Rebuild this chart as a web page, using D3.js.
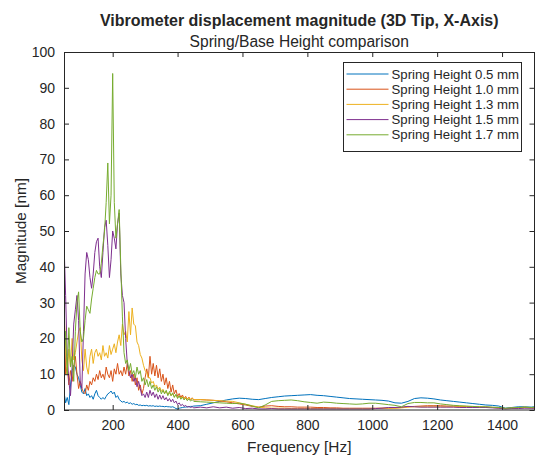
<!DOCTYPE html>
<html>
<head>
<meta charset="utf-8">
<script src="https://cdn.jsdelivr.net/npm/d3@7"></script>
<style>
  body { margin: 0; background: #fff; }
  svg { display: block; }
  text { font-family: "Liberation Sans", Arial, sans-serif; fill: #262626; }
</style>
</head>
<body>
<svg id="chart" width="535" height="458"></svg>
<script>
// frequency grid [Hz]: fine below 450 Hz, coarser above
var freq = [50,55,60,65,70,75,80,85,90,95,100,105,110,115,120,125,130,135,140,145,
  150,155,160,165,170,175,180,185,190,195,200,205,210,215,220,225,230,235,240,245,
  250,255,260,265,270,275,280,285,290,295,300,305,310,315,320,325,330,335,340,345,
  350,355,360,365,370,375,380,385,390,395,400,405,410,415,420,425,430,435,440,445,450,
  470,490,510,530,550,570,590,610,630,650,670,690,710,730,750,770,790,810,830,850,
  870,890,910,930,950,970,990,1010,1030,1050,1070,1090,1110,1130,1150,1170,1190,1210,1230,1250,
  1270,1290,1310,1330,1350,1370,1390,1410,1430,1450,1470,1490,1500];

var h05 = [5,2,3.5,1.5,7,11,12.5,12,10,9,7,5,4.5,6,4,4.5,3.5,4,3,4.5,
  5.5,4,3.5,3,3.5,3,3.8,4.5,4.8,5.3,4.5,5,3.5,4,3,2.5,2.2,2.4,2,2.2,
  1.8,2,1.6,1.8,1.5,1.6,1.3,1.4,1.2,1.3,1.2,1.3,1.1,1.2,1.1,1.2,1.0,1.1,1.0,1.1,
  1.0,1.0,0.9,1.0,0.9,0.9,0.8,0.9,0.7,0.4,0.3,0.5,0.6,0.7,0.8,0.8,0.9,0.9,1.0,1.0,1.1,
  1.2,1.6,2.0,2.4,2.8,3.1,3.3,3.2,3.0,2.9,3.2,3.5,3.7,3.9,4.0,4.1,4.2,4.3,4.1,4.0,
  3.8,3.6,3.4,3.2,3.1,3.0,2.9,2.8,2.7,2.5,2.0,1.9,2.4,3.2,3.4,3.3,3.1,2.8,2.6,2.4,
  2.2,2.0,1.8,1.6,1.4,1.3,1.1,0.5,0.7,0.9,0.9,0.8,0.9];

var h10 = [33,10,12,7,11,8,12,15,10,6,8,6,5,4.5,7,5.5,8,7,9,8,
  10,8.5,11,9,10,8.5,12,10,9,11,8,11.5,10,13,10,11,9.5,12,10,13,
  9.5,11,8,10,7,9,5.5,7,4.5,6,9,11.5,9,15,10,13,9.5,12.5,9,11.5,
  8,10,7,9,6,8,5,7,4.5,5.6,3.8,4.6,3.5,4.2,3.2,3.8,3,3.6,2.8,3.4,2.8,
  2.9,2.8,2.7,2.5,2.3,2.0,1.7,1.4,1.0,0.8,1.1,1.2,1.0,0.9,0.9,0.8,0.8,0.8,0.7,0.7,
  0.6,0.6,0.5,0.5,0.5,0.5,0.5,0.5,0.5,0.5,0.6,0.7,0.9,1.0,1.1,1.2,1.2,1.2,1.1,1.1,
  1.0,1.0,0.9,0.8,0.8,0.7,0.6,0.4,0.5,0.7,0.7,0.6,0.6];

var h13 = [26,18,10,17,12,20,14,16,19,22,23,14,11,17,12,10,15,17,13,16,
  17,15,16,14,18,15,16,14.5,18,15.5,17,18.5,16,19,21,18,24,21,22,19,
  27.5,21,28.5,24,23.5,19,18,15.5,14.5,12.5,11,10.5,9,9,7.5,8,6.5,7,5.8,6.4,
  5.2,5.8,4.8,5.2,4.3,4.8,4,4.5,3.7,4.2,3.4,3.9,3.2,3.8,3.1,3.6,3,3.5,2.9,3.3,2.9,
  2.9,2.8,2.7,2.6,2.5,2.4,2.0,1.6,1.2,0.8,0.6,0.5,0.5,0.5,0.4,0.4,0.4,0.4,0.4,0.4,
  0.4,0.4,0.4,0.4,0.4,0.4,0.4,0.4,0.5,0.5,0.5,0.6,0.8,0.9,0.9,0.9,0.9,0.9,0.9,0.9,
  0.9,0.9,0.9,0.9,0.8,0.7,0.6,0.4,0.5,0.6,0.8,0.6,0.6];

var h15 = [47,32,15,8,4,12,24,28,32,25,8,6,22,38,44,42,37,34,38,44,
  47,48,40,37,44,51,53,46,37,42,50,48,45,52,55,38,32,30,20,13,
  11,9,10,8,9,6.5,8,6,4,4.5,3.5,5,3.5,5.5,4,5,3.5,4.5,3,4.2,
  3,4,2.8,3.5,2.5,3.2,2.3,3,2,2.5,1.5,2,1.2,1.6,1,1.3,0.8,1,0.7,0.9,0.6,
  0.8,0.6,0.9,0.6,0.8,0.5,0.7,0.4,0.5,0.3,0.3,0.4,0.3,0.3,0.3,0.3,0.3,0.3,0.3,0.3,
  0.3,0.3,0.3,0.3,0.3,0.3,0.3,0.4,0.5,0.7,0.7,0.8,1.0,0.9,0.8,0.8,0.8,0.8,0.8,0.8,
  0.7,0.7,0.7,0.7,0.7,0.6,0.5,0.3,0.4,0.4,0.5,0.5,0.5];

var h17 = [14,22,10,23,12,15,8,22,30,33,22,19,20,25,29,28,27,31,34,37,
  39,38,38,41,46,50,58,69,52,60,94,58,48,52,56,40,26,16,13,14,
  11,13,10,11,9,12,10,11,8,9,7,8.5,6.5,8,6,7,5.5,6.5,5,6,
  4.5,5.5,4.5,5.5,4,5.2,4,4.8,3.5,4.4,3.2,4,3,3.6,2.8,3.3,2.6,3.1,2.5,2.9,2.4,
  2.3,2.2,2.1,2.0,1.9,1.8,1.9,1.6,1.1,0.6,1.4,2.4,2.6,2.7,2.8,2.6,2.3,2.1,1.9,2.2,
  2.1,1.9,1.8,1.7,1.6,1.7,1.9,1.9,1.7,1.5,1.3,0.9,1.8,2.1,2.1,2.0,2.0,1.7,1.5,1.3,
  1.2,1.1,1.0,0.9,0.9,0.8,0.7,0.5,0.6,0.7,0.8,0.7,0.8];

var seriesNames = ["Spring Height 0.5 mm", "Spring Height 1.0 mm", "Spring Height 1.3 mm",
  "Spring Height 1.5 mm", "Spring Height 1.7 mm"];
var seriesValues = [h05, h10, h13, h15, h17];
var colors = ["#0072BD", "#D95319", "#EDB120", "#7E2F8E", "#77AC30"];
var xTicks = [200, 400, 600, 800, 1000, 1200, 1400];
var yTicks = [0, 10, 20, 30, 40, 50, 60, 70, 80, 90, 100];

var svg = d3.select("#chart"),
    margin = { top: 52, right: 0.5, bottom: 48, left: 64 },
    width = +svg.attr("width") - margin.left - margin.right,
    height = +svg.attr("height") - margin.top - margin.bottom;

var x = d3.scaleLinear().domain([50, 1500]).range([0, width]),
    y = d3.scaleLinear().domain([0, 100]).range([height, 0]);

var g = svg.append("g")
    .attr("transform", "translate(" + margin.left + "," + margin.top + ")");

svg.append("defs").append("clipPath")
    .attr("id", "clip")
    .append("rect")
    .attr("width", width)
    .attr("height", height);

// curves, drawn in order so the last one ends on top
var line = d3.line()
    .x(function (d) { return x(d[0]); })
    .y(function (d) { return y(d[1]); });

seriesValues.forEach(function (vals, i) {
    g.append("path")
        .datum(freq.map(function (f, k) { return [f, vals[k]]; }))
        .attr("clip-path", "url(#clip)")
        .attr("fill", "none")
        .attr("stroke", colors[i])
        .attr("stroke-width", 1)
        .attr("stroke-linejoin", "round")
        .attr("d", line);
});

// axes with inward ticks on all four sides
function styleAxis(sel) {
    sel.select(".domain").remove();
    sel.selectAll(".tick line").attr("stroke", "#262626");
    sel.selectAll("text").attr("fill", "#262626").style("font-size", "14px")
        .style("font-family", '"Liberation Sans", Arial, sans-serif');
}

g.append("g")
    .attr("transform", "translate(0," + height + ")")
    .call(d3.axisBottom(x).tickValues(xTicks).tickFormat(d3.format("d"))
        .tickSizeInner(-5).tickSizeOuter(0).tickPadding(10.5))
    .call(styleAxis);

g.append("g")
    .call(d3.axisTop(x).tickValues(xTicks).tickSizeInner(-5).tickSizeOuter(0).tickFormat(""))
    .call(styleAxis);

g.append("g")
    .call(d3.axisLeft(y).tickValues(yTicks).tickSizeInner(-5).tickSizeOuter(0).tickPadding(9))
    .call(styleAxis);

g.append("g")
    .attr("transform", "translate(" + width + ",0)")
    .call(d3.axisRight(y).tickValues(yTicks).tickSizeInner(-5).tickSizeOuter(0).tickFormat(""))
    .call(styleAxis);

g.append("rect")
    .attr("x", 0.5)
    .attr("y", 0.5)
    .attr("width", width - 0.5)
    .attr("height", height - 0.5)
    .attr("fill", "none")
    .attr("stroke", "#262626")
    .attr("stroke-width", 1);

// titles and labels
svg.append("text")
    .attr("x", margin.left + width / 2)
    .attr("y", 25.5)
    .attr("text-anchor", "middle")
    .style("font-size", "16px")
    .style("font-weight", "bold")
    .text("Vibrometer displacement magnitude (3D Tip, X-Axis)");

svg.append("text")
    .attr("x", margin.left + width / 2)
    .attr("y", 47)
    .attr("text-anchor", "middle")
    .style("font-size", "15.6px")
    .text("Spring/Base Height comparison");

svg.append("text")
    .attr("x", margin.left + width / 2)
    .attr("y", 452)
    .attr("text-anchor", "middle")
    .style("font-size", "15.4px")
    .text("Frequency [Hz]");

svg.append("text")
    .attr("transform", "translate(25.5," + (margin.top + height / 2) + ") rotate(-90)")
    .attr("text-anchor", "middle")
    .style("font-size", "15.4px")
    .text("Magnitude [nm]");

// legend
var legend = svg.append("g").attr("transform", "translate(343.5,62.5)");

legend.append("rect")
    .attr("width", 178)
    .attr("height", 89)
    .attr("fill", "#fff")
    .attr("stroke", "#262626")
    .attr("stroke-width", 1);

var item = legend.selectAll(".item")
    .data(seriesNames)
    .enter().append("g")
    .attr("class", "item")
    .attr("transform", function (d, i) { return "translate(0," + (11.5 + i * 15.2) + ")"; });

item.append("line")
    .attr("x1", 3)
    .attr("x2", 45)
    .attr("stroke", function (d, i) { return colors[i]; })
    .attr("stroke-width", 1);

item.append("text")
    .attr("x", 48)
    .attr("y", 4.6)
    .style("font-size", "13.2px")
    .text(function (d) { return d; });
</script>
</body>
</html>
